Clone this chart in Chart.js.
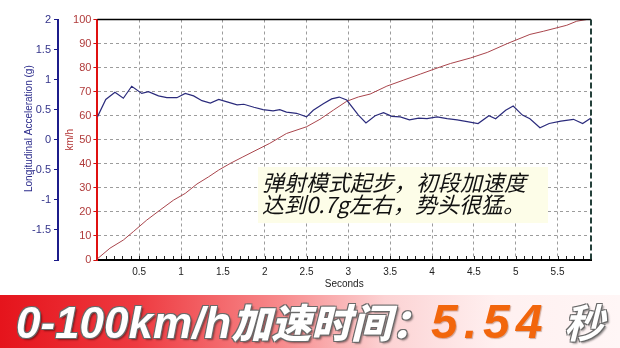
<!DOCTYPE html>
<html><head><meta charset="utf-8">
<script src="https://cdn.jsdelivr.net/npm/chart.js@4"></script>
<style>
html,body{margin:0;padding:0;background:#fff;}
#wrap{position:relative;width:620px;height:348px;overflow:hidden;background:#fff;}
#c{position:absolute;left:0;top:0;}
#note{position:absolute;left:258px;top:167px;width:290px;height:56px;background:#fdfde8;
  font-family:"Noto Sans CJK SC",sans-serif;font-style:italic;font-size:22px;line-height:22px;color:#111;
  box-sizing:border-box;padding:3px 0 0 4px;white-space:nowrap;}
#banner{position:absolute;left:0;top:295px;width:620px;height:53px;
  background:linear-gradient(90deg,#e5141c 0%,#ee3a40 22%,#f7898b 45%,#fcd2d3 62%,#fff0f0 80%,#fff6f6 100%);}
#banner span{position:absolute;top:0;line-height:53px;font-style:italic;font-weight:bold;white-space:nowrap;}
.w{color:#fff;text-shadow:-1px -1px 0 #6a6a6a,1px -1px 0 #6a6a6a,-1px 1px 0 #6a6a6a,1px 1px 0 #6a6a6a,2px 2px 2px rgba(0,0,0,.45);}
#t1{left:16px;font-family:"Liberation Sans","Noto Sans CJK SC",sans-serif;font-size:44px;}
#t1 .cjk{font-family:"Noto Sans CJK SC",sans-serif;font-weight:900;font-size:40px;}
#t2{left:431px;font-family:"Liberation Sans",sans-serif;font-size:48px;color:#f2660c;letter-spacing:6px;
  text-shadow:1px 1px 1px rgba(120,40,0,.35);}
#t3{left:564px;font-family:"Noto Sans CJK SC",sans-serif;font-weight:900;font-size:40px;}
</style>
</head><body>
<div id="wrap">
<canvas id="c" width="620" height="295"></canvas>
<div id="note">弹射模式起步，初段加速度<br>达到0.7g左右，势头很猛。</div>
<div id="banner">
  <span id="t1" class="w">0-100km/h<span class="cjk" style="position:static">加速时间：</span></span>
  <span id="t2">5.54</span>
  <span id="t3" class="w">秒</span>
</div>
</div>
<script>
// ---- data ----
const accTime = [0, 0.10, 0.21, 0.31, 0.41, 0.53, 0.61, 0.73, 0.83, 0.95, 1.05, 1.15, 1.25, 1.35, 1.45, 1.55, 1.67, 1.75, 1.87, 1.98, 2.10, 2.18, 2.26, 2.38, 2.50, 2.58, 2.70, 2.80, 2.89, 2.98, 3.12, 3.21, 3.32, 3.42, 3.52, 3.62, 3.73, 3.84, 3.94, 4.06, 4.18, 4.30, 4.42, 4.55, 4.68, 4.76, 4.88, 4.97, 5.08, 5.17, 5.29, 5.40, 5.54, 5.69, 5.80, 5.90];
const accG = [0.38, 0.67, 0.79, 0.69, 0.89, 0.77, 0.80, 0.73, 0.70, 0.70, 0.77, 0.73, 0.65, 0.61, 0.67, 0.63, 0.58, 0.59, 0.54, 0.50, 0.48, 0.50, 0.46, 0.44, 0.38, 0.49, 0.60, 0.68, 0.71, 0.66, 0.41, 0.28, 0.40, 0.45, 0.39, 0.38, 0.33, 0.36, 0.35, 0.38, 0.35, 0.33, 0.30, 0.27, 0.40, 0.35, 0.49, 0.56, 0.41, 0.35, 0.20, 0.27, 0.31, 0.34, 0.27, 0.36];
const spdTime = [0, 0.15, 0.31, 0.43, 0.59, 0.75, 0.91, 1.05, 1.19, 1.33, 1.45, 1.59, 1.73, 1.86, 2.06, 2.26, 2.50, 2.66, 2.82, 2.98, 3.12, 3.26, 3.46, 3.66, 3.86, 4.10, 4.22, 4.46, 4.66, 4.90, 5.17, 5.33, 5.61, 5.73, 5.85];
const spdKmh = [0.5, 4.9, 8.3, 11.8, 16.6, 20.8, 24.9, 27.7, 31.6, 34.6, 37.4, 40.2, 42.7, 45.0, 48.5, 52.6, 55.4, 58.5, 62.3, 66.0, 67.8, 69.0, 72.3, 74.8, 77.3, 80.3, 81.7, 84.0, 86.3, 90.0, 93.8, 95.1, 97.6, 99.3, 100];
const xTickValues = [0.5, 1, 1.5, 2, 2.5, 3, 3.5, 4, 4.5, 5, 5.5];
const gTickValues = [-2, -1.5, -1, -0.5, 0, 0.5, 1, 1.5, 2];
const kmhTickValues = [0, 10, 20, 30, 40, 50, 60, 70, 80, 90, 100];
const xMin = 0, xMax = 5.9;

const xMinor = [];
for (let i = 1; i < 59; i++) xMinor.push(i / 10);

const framePlugin = {
  id: 'frame',
  afterDraw(chart) {
    const {ctx, chartArea: a} = chart;
    const xs = chart.scales.x;
    ctx.save();
    ctx.strokeStyle = '#000'; ctx.lineWidth = 1.5;
    ctx.beginPath(); ctx.moveTo(a.left, a.top); ctx.lineTo(a.right, a.top); ctx.stroke();
    ctx.strokeStyle = '#24403a'; ctx.lineWidth = 2; ctx.setLineDash([6, 3]);
    ctx.beginPath(); ctx.moveTo(a.right, a.top); ctx.lineTo(a.right, a.bottom); ctx.stroke();
    ctx.setLineDash([]);
    ctx.strokeStyle = '#222'; ctx.lineWidth = 1;
    ctx.beginPath();
    xMinor.forEach(v => {
      const px = Math.round(xs.getPixelForValue(v)) + 0.5;
      ctx.moveTo(px, a.bottom - 1); ctx.lineTo(px, a.bottom - 4);
    });
    ctx.stroke();
    ctx.restore();
  }
};

new Chart(document.getElementById('c'), {
  type: 'line',
  data: {
    datasets: [
      {label: 'Longitudinal Acceleration', data: accTime.map((t, i) => ({x: t, y: accG[i]})),
       yAxisID: 'yG', borderColor: '#2b2b7c', borderWidth: 1.2, pointRadius: 0, tension: 0},
      {label: 'Speed', data: spdTime.map((t, i) => ({x: t, y: spdKmh[i]})),
       yAxisID: 'yK', borderColor: '#a9454c', borderWidth: 1, pointRadius: 0, tension: 0}
    ]
  },
  options: {
    responsive: false, animation: false, devicePixelRatio: 1,
    layout: {padding: {left: 0, right: 29, top: 19.5, bottom: 0}},
    plugins: {legend: {display: false}, tooltip: {enabled: false}},
    scales: {
      x: {
        type: 'linear', position: 'bottom', min: xMin, max: xMax,
        afterBuildTicks: s => { s.ticks = xTickValues.map(v => ({value: v})); },
        afterFit: s => { s.height = 35; },
        grid: {color: '#9c9c9c', lineWidth: 1, drawTicks: false},
        border: {color: '#000', width: 2, dash: [3, 3]},
        ticks: {color: '#222', font: {family: 'Liberation Sans', size: 10}, padding: 6, maxRotation: 0, autoSkip: false,
                callback: v => String(v)},
        title: {display: true, text: 'Seconds', color: '#222', font: {family: 'Liberation Sans', size: 10}, padding: {top: 0, bottom: 5}}
      },
      yK: {
        type: 'linear', position: 'left', weight: 0, min: 0, max: 100,
        afterBuildTicks: s => { s.ticks = kmhTickValues.map(v => ({value: v})); },
        afterFit: s => { s.width = 39.4; },
        grid: {color: c => (c.tick && (c.tick.value === 0 || c.tick.value === 100)) ? 'rgba(0,0,0,0)' : '#9c9c9c',
               lineWidth: 1, tickLength: 4, tickColor: '#d01010'},
        border: {color: '#e01010', width: 2, dash: [3, 3]},
        ticks: {color: '#b03a3a', font: {family: 'Liberation Sans', size: 11}, padding: 2, autoSkip: false},
        title: {display: true, text: 'km/h', color: '#b03030', font: {family: 'Liberation Sans', size: 10}, padding: {top: 6, bottom: 0}}
      },
      yG: {
        type: 'linear', position: 'left', weight: 1, min: -2, max: 2,
        afterBuildTicks: s => { s.ticks = gTickValues.map(v => ({value: v})); },
        afterFit: s => { s.width = 58; },
        grid: {drawOnChartArea: false, tickLength: 4, tickColor: '#1c1c8a'},
        border: {color: '#1c1c8a', width: 2},
        ticks: {color: '#33338a', font: {family: 'Liberation Sans', size: 11}, padding: 3, autoSkip: false,
                callback: v => v === -2 ? '' : String(v)},
        title: {display: true, text: '        Longitudinal Acceleration (g)', color: '#2c2c8c',
                font: {family: 'Liberation Sans', size: 10}, padding: {top: 23, bottom: 0}}
      }
    }
  },
  plugins: [framePlugin]
});
</script>
</body></html>
